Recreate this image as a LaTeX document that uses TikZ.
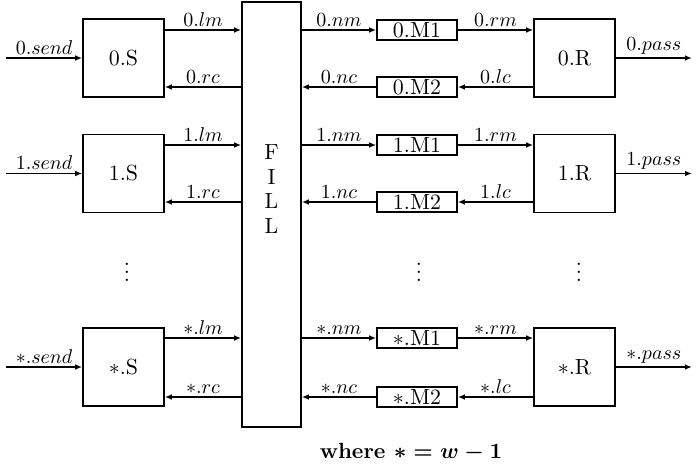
\documentclass[tikz,border=0pt,11pt]{standalone}
\usepackage{tikz}
\usetikzlibrary{arrows.meta}

\begin{document}
\begin{tikzpicture}[
  x=0.5pt, y=-0.5pt,
  font=\normalsize,
  blk/.style={draw, line width=0.8pt, minimum width=40.5pt, minimum height=39pt,
              inner sep=0pt},
  chan/.style={draw, line width=0.8pt, minimum width=40pt, minimum height=10pt,
               inner sep=0pt},
  bus/.style={draw, line width=0.8pt, minimum width=29.5pt, minimum height=212.5pt,
              inner sep=0pt},
  fl/.style={-{Latex[length=3.5pt,width=2.8pt]}, line width=0.7pt},
  lb/.style={font=\small, above, inner sep=1.5pt},
]
\useasboundingbox (0,0) rectangle (699,475);

% ---- senders ----
\node[blk] (s0) at (123.5,58)    {0.S};
\node[blk] (s1) at (123.5,173.5) {1.S};
\node[blk] (s2) at (123.5,367)   {$*$.S};

% ---- the FILL column ----
\node[bus] (fill) at (271.5,214.5) {};
\node[align=center, inner sep=0pt] (fillword) at (271.5,189)
  {F\\[-1.2pt]I\\[-1.2pt]L\\[-1.2pt]L};

% ---- channels ----
\node[chan] (ma0) at (417,30)  {0.M1};
\node[chan] (mb0) at (417,87)  {0.M2};
\node[chan] (ma1) at (417,145) {1.M1};
\node[chan] (mb1) at (417,202) {1.M2};
\node[chan] (ma2) at (417,338) {$*$.M1};
\node[chan] (mb2) at (417,397) {$*$.M2};

% ---- receivers ----
\node[blk] (r0) at (574.5,58)    {0.R};
\node[blk] (r1) at (574.5,173.5) {1.R};
\node[blk] (r2) at (574.5,367)   {$*$.R};

% ---- free ends ----
\coordinate (in0) at (6,58);
\coordinate (in1) at (6,173.5);
\coordinate (in2) at (6,367);
\coordinate (out0) at (692,58);
\coordinate (out1) at (692,173.5);
\coordinate (out2) at (692,367);

\foreach \i/\k in {0/0, 1/1, 2/\ast} {
  \draw[fl] (in\i) -- node[lb] {$\k.send$} (s\i);
  \draw[fl] (s\i.east |- ma\i) -- node[lb] {$\k.lm$} (fill.west |- ma\i);
  \draw[fl] (fill.west |- mb\i) -- node[lb] {$\k.rc$} (s\i.east |- mb\i);
  \draw[fl] (fill.east |- ma\i) -- node[lb] {$\k.nm$} (ma\i);
  \draw[fl] (ma\i) -- node[lb] {$\k.rm$} (r\i.west |- ma\i);
  \draw[fl] (r\i.west |- mb\i) -- node[lb] {$\k.lc$} (mb\i);
  \draw[fl] (mb\i) -- node[lb] {$\k.nc$} (fill.east |- mb\i);
  \draw[fl] (r\i) -- node[lb] {$\k.pass$} (out\i);
}

% ---- ellipsis ----
\node (dots0) at (127,266) {$\vdots$};
\node (dots1) at (419,266) {$\vdots$};
\node (dots2) at (579,266) {$\vdots$};

\node[font=\bfseries\boldmath] (note) at (411,452) {where $\ast = w - 1$};

\end{tikzpicture}
\end{document}
